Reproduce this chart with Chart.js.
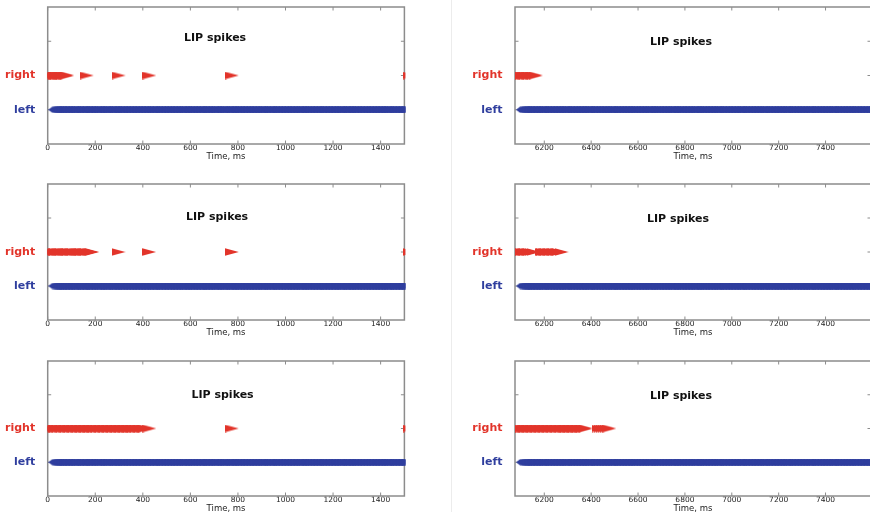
<!DOCTYPE html>
<html>
<head>
<meta charset="utf-8">
<script src="https://cdn.jsdelivr.net/npm/chart.js@4.4.1/dist/chart.umd.min.js"></script>
<style>
  html, body { margin: 0; padding: 0; background: #fff; overflow: hidden; }
  body { width: 870px; height: 512px; position: relative; }
  canvas { position: absolute; }
  .sep { position: absolute; left: 451px; top: 0; width: 1px; height: 512px; background: #ececec; }
</style>
</head>
<body>
<div class="sep"></div>
<script>
// rows of the raster
const rowLabels = ['left', 'right', ''];
const rowValues = [0, 1, 2];

// x tick labels
const ticksEarly = [0, 200, 400, 600, 800, 1000, 1200, 1400];
const ticksLate = [6200, 6400, 6600, 6800, 7000, 7200, 7400];

// "left" spike times (same in every row), ms
const leftEarly = [32, 41, 50, 63, 77, 86, 101, 112, 124, 139, 148, 161, 175, 184, 199, 210, 222, 237, 246,
  260, 273, 283, 297, 309, 320, 335, 344, 358, 371, 382, 396, 407, 419, 433, 443, 456, 470, 480, 494,
  506, 517, 531, 541, 555, 568, 578, 592, 604, 615, 630, 639, 653, 666, 676, 690, 702, 714, 728, 738,
  752, 765, 775, 789, 801, 812, 826, 836, 850, 863, 873, 887, 899, 911, 925, 935, 949, 962, 972, 986,
  998, 1009, 1023, 1033, 1047, 1060, 1070, 1084, 1096, 1108, 1122, 1132, 1146, 1159, 1169, 1183, 1195, 1206,
  1220, 1230, 1244, 1257, 1267, 1281, 1293, 1305, 1319, 1329, 1343, 1356, 1366, 1380, 1392, 1403, 1417, 1427,
  1441, 1454, 1464, 1478, 1490, 1502, 1513];
const leftLate = [6109, 6119, 6129, 6143, 6155, 6166, 6180, 6190, 6204, 6217, 6227, 6241, 6253, 6264, 6278,
  6288, 6302, 6315, 6325, 6339, 6351, 6362, 6376, 6386, 6400, 6413, 6423, 6437, 6449, 6460, 6474, 6484, 6498,
  6511, 6521, 6535, 6547, 6558, 6572, 6582, 6596, 6609, 6619, 6633, 6645, 6656, 6670, 6680, 6694, 6707, 6717,
  6731, 6743, 6754, 6768, 6778, 6792, 6805, 6815, 6829, 6841, 6852, 6866, 6876, 6890, 6903, 6913, 6927, 6939,
  6950, 6964, 6974, 6988, 7001, 7011, 7025, 7037, 7048, 7062, 7072, 7086, 7099, 7109, 7123, 7135, 7146, 7160,
  7170, 7184, 7197, 7207, 7221, 7233, 7244, 7258, 7268, 7282, 7295, 7305, 7319, 7331, 7342, 7356, 7366, 7380,
  7393, 7403, 7417, 7429, 7440, 7454, 7464, 7478, 7491, 7501, 7515, 7527, 7538, 7552, 7562, 7576, 7589, 7599, 7610];

// "right" spike times per panel, ms
const rightEarly1 = [2, 7, 11, 17, 22, 26, 32, 37, 41, 47, 52, 57, 62, 66, 72, 77, 83, 165, 299, 428, 775, 1523];
const rightEarly2 = [2, 6, 12, 17, 21, 27, 32, 36, 42, 47, 51, 57, 62, 67, 72, 76, 82, 87, 91, 97, 102, 106,
  112, 117, 122, 127, 131, 137, 142, 146, 152, 157, 161, 167, 172, 177, 182, 188, 298, 427, 775, 1523];
const rightEarly3 = [3, 8, 14, 20, 25, 31, 37, 42, 48, 54, 59, 65, 71, 76, 82, 88, 93, 99, 105, 110, 116, 122,
  127, 133, 139, 144, 150, 156, 161, 167, 173, 178, 184, 190, 195, 201, 207, 212, 218, 224, 229, 235, 241,
  246, 252, 258, 263, 269, 275, 280, 286, 292, 297, 303, 309, 314, 320, 326, 331, 337, 343, 348, 354, 360,
  365, 371, 377, 382, 388, 394, 399, 405, 411, 428, 775, 1523];
const rightLate1 = [6072, 6078, 6083, 6089, 6095, 6100, 6106, 6112, 6117, 6123, 6129, 6134, 6140, 6146, 6151, 6157, 6165];
const rightLate2 = [6072, 6078, 6084, 6089, 6095, 6101, 6106, 6112, 6118, 6123, 6129, 6135, 6140, 6146, 6154,
  6190, 6196, 6202, 6207, 6213, 6219, 6224, 6230, 6236, 6241, 6247, 6253, 6258, 6264, 6274];
const rightLate3 = [6078, 6101, 6107, 6112, 6118, 6124, 6129, 6135, 6141, 6146, 6152, 6158, 6163, 6169, 6175,
  6180, 6186, 6192, 6197, 6203, 6209, 6214, 6220, 6226, 6231, 6237, 6243, 6248, 6254, 6260, 6265, 6271, 6277,
  6282, 6288, 6294, 6299, 6305, 6311, 6316, 6322, 6328, 6333, 6339, 6345, 6350, 6356, 6362, 6367, 6372, 6377,
  6432, 6440, 6449, 6457, 6466, 6478];

const RED = '#e2342a';
const BLUE = '#2f3e9e';
const AXIS = '#8c8c8c';

// panel layout (canvas box + plot offsets)
const panels = [
  { x: 0, y: 0, w: 420, h: 162, axisW: 47.7, padTop: 5.3, padRight: 15.6, min: 0, max: 1500,
    ticks: ticksEarly, right: rightEarly1, left: leftEarly, dx: -11, dy: 30.7 },
  { x: 452, y: 0, w: 430, h: 162, axisW: 63, padTop: 5.3, padRight: 11, min: 6075, max: 7594,
    ticks: ticksLate, right: rightLate1, left: leftLate, dx: -12, dy: 35.4 },
  { x: 0, y: 177, w: 420, h: 161, axisW: 47.7, padTop: 5, padRight: 15.6, min: 0, max: 1500,
    ticks: ticksEarly, right: rightEarly2, left: leftEarly, dx: -9, dy: 33 },
  { x: 452, y: 177, w: 430, h: 161, axisW: 63, padTop: 5, padRight: 11, min: 6075, max: 7594,
    ticks: ticksLate, right: rightLate2, left: leftLate, dx: -15, dy: 34.7 },
  { x: 0, y: 354, w: 420, h: 160, axisW: 47.7, padTop: 5, padRight: 15.6, min: 0, max: 1500,
    ticks: ticksEarly, right: rightEarly3, left: leftEarly, dx: -3.5, dy: 33.7 },
  { x: 452, y: 354, w: 430, h: 160, axisW: 63, padTop: 5, padRight: 11, min: 6075, max: 7594,
    ticks: ticksLate, right: rightLate3, left: leftLate, dx: -12, dy: 35 }
];

// right-pointing elongated triangle marker
function makeArrow() {
  const c = document.createElement('canvas');
  c.width = 14; c.height = 8;
  const g = c.getContext('2d');
  g.fillStyle = RED;
  g.beginPath();
  g.moveTo(0, 0.2);
  g.lineTo(13.8, 4);
  g.lineTo(0, 7.8);
  g.closePath();
  g.fill();
  return c;
}
// left-pointing blunt wedge for the dense "left" train
function makeWedge() {
  const c = document.createElement('canvas');
  c.width = 14; c.height = 7;
  const g = c.getContext('2d');
  g.fillStyle = BLUE;
  g.beginPath();
  g.moveTo(0, 3.5);
  g.lineTo(4, 0.4);
  g.lineTo(14, 0.4);
  g.lineTo(14, 6.6);
  g.lineTo(4, 6.6);
  g.closePath();
  g.fill();
  return c;
}
const arrow = makeArrow();
const wedge = makeWedge();

const framePlugin = {
  id: 'frame',
  beforeDatasetsDraw(chart, args, opts) {
    const { ctx, chartArea: a, scales: { x, y } } = chart;
    ctx.save();
    ctx.strokeStyle = AXIS;
    ctx.lineWidth = 1;
    ctx.beginPath();
    opts.xTicks.forEach(v => {
      const px = x.getPixelForValue(v);
      ctx.moveTo(px, a.bottom); ctx.lineTo(px, a.bottom - 3.5);
      ctx.moveTo(px, a.top); ctx.lineTo(px, a.top + 3.5);
    });
    rowValues.forEach(v => {
      const py = y.getPixelForValue(v);
      ctx.moveTo(a.left, py); ctx.lineTo(a.left + 3.5, py);
      ctx.moveTo(a.right, py); ctx.lineTo(a.right - 3.5, py);
    });
    ctx.stroke();
    ctx.lineWidth = 1.5;
    ctx.strokeRect(a.left, a.top, a.right - a.left, a.bottom - a.top);
    ctx.fillStyle = '#111';
    ctx.font = 'bold 11px "DejaVu Sans"';
    ctx.textAlign = 'center';
    ctx.textBaseline = 'middle';
    ctx.fillText('LIP spikes', (a.left + a.right) / 2 + opts.dx, a.top + opts.dy);
    ctx.restore();
  }
};

panels.forEach(p => {
  const canvas = document.createElement('canvas');
  canvas.width = p.w;
  canvas.height = p.h;
  canvas.style.left = p.x + 'px';
  canvas.style.top = p.y + 'px';
  document.body.appendChild(canvas);

  new Chart(canvas, {
    type: 'scatter',
    data: {
      datasets: [
        {
          label: 'right',
          data: p.right.map(t => ({ x: t, y: 1 })),
          pointStyle: arrow,
          pointRadius: 7,
          pointBorderWidth: 0,
          clip: { left: 0, top: false, right: 1, bottom: false }
        },
        {
          label: 'left',
          data: p.left.map(t => ({ x: t, y: 0 })),
          pointStyle: wedge,
          pointRadius: 7,
          pointBorderWidth: 0,
          clip: { left: 0, top: false, right: 1, bottom: false }
        }
      ]
    },
    options: {
      responsive: false,
      animation: false,
      events: [],
      layout: { padding: { top: p.padTop, right: p.padRight, left: 0, bottom: 0 } },
      plugins: {
        legend: { display: false },
        tooltip: { enabled: false },
        frame: { xTicks: p.ticks, dx: p.dx, dy: p.dy }
      },
      scales: {
        x: {
          type: 'linear',
          min: p.min,
          max: p.max,
          grid: { display: false, drawTicks: false },
          border: { display: false },
          afterBuildTicks: s => { s.ticks = p.ticks.map(v => ({ value: v })); },
          afterFit: s => { s.height = 18; s.paddingLeft = 0; s.paddingRight = 0; },
          ticks: {
            padding: 0,
            maxRotation: 0,
            autoSkip: false,
            color: '#222',
            font: { family: 'DejaVu Sans', size: 7.5 },
            callback: v => String(v)
          },
          title: {
            display: true,
            text: 'Time, ms',
            color: '#222',
            padding: { top: 0, bottom: 0.3 },
            font: { family: 'DejaVu Sans', size: 8.5 }
          }
        },
        y: {
          type: 'linear',
          min: -1,
          max: 3,
          grid: { display: false, drawTicks: false },
          border: { display: false },
          afterBuildTicks: s => { s.ticks = rowValues.map(v => ({ value: v })); },
          afterFit: s => { s.width = p.axisW; s.paddingTop = 0; s.paddingBottom = 0; },
          ticks: {
            padding: 12.5,
            autoSkip: false,
            font: { family: 'DejaVu Sans', size: 11, weight: 'bold' },
            color: c => (c.tick && c.tick.value === 1 ? RED : BLUE),
            callback: v => rowLabels[rowValues.indexOf(v)]
          }
        }
      }
    },
    plugins: [framePlugin]
  });
});
</script>
</body>
</html>
